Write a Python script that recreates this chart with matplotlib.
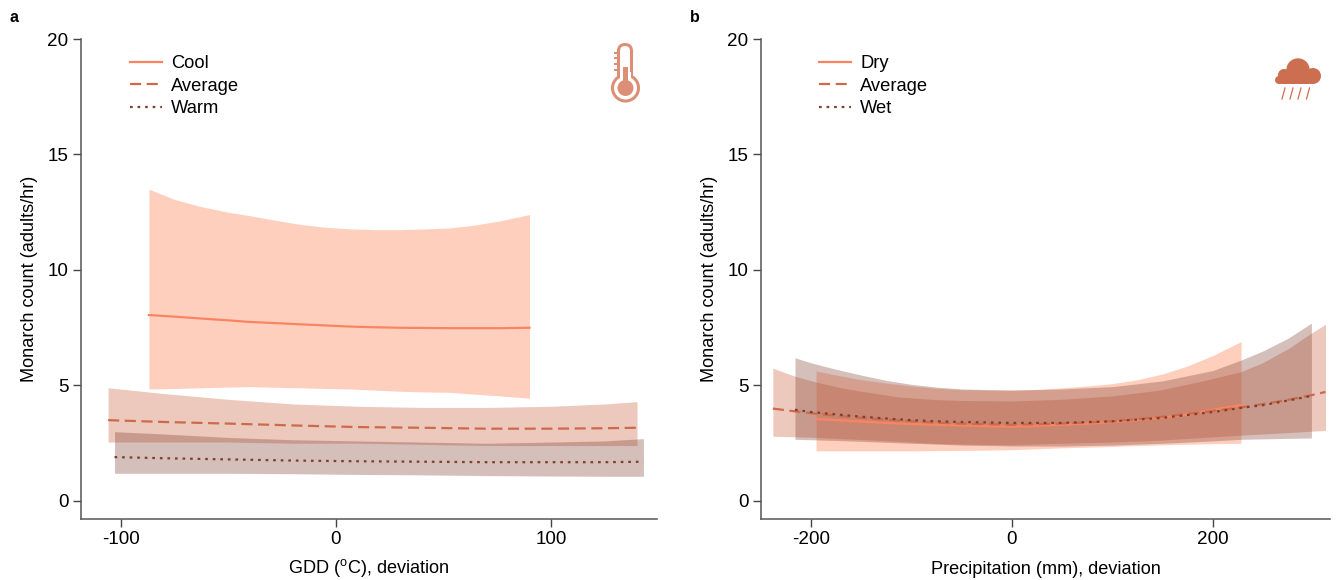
import numpy as np
import matplotlib
matplotlib.use("Agg")
import matplotlib.pyplot as plt
from matplotlib.patches import Circle, FancyBboxPatch, Rectangle
from matplotlib.transforms import Affine2D

plt.rcParams['font.family'] = ['Liberation Sans', 'DejaVu Sans']
plt.rcParams['axes.unicode_minus'] = False

W, H = 1342, 580

# Panel a
a_cool_x = [-87, -75, -63, -50, -40, -28, -17, -5, 6.5, 18, 30, 42, 53, 65, 76, 90]
a_cool_up = [13.5, 13.05, 12.75, 12.5, 12.35, 12.15, 11.98, 11.85, 11.78, 11.75, 11.75, 11.78, 11.82, 11.95, 12.12, 12.4]
a_cool_lo = [4.85, 4.87, 4.9, 4.93, 4.95, 4.92, 4.9, 4.87, 4.85, 4.8, 4.75, 4.72, 4.7, 4.62, 4.55, 4.45]
a_cool_m = [8.05, 7.98, 7.9, 7.82, 7.75, 7.7, 7.65, 7.6, 7.55, 7.52, 7.5, 7.49, 7.48, 7.48, 7.48, 7.5]
a_avg_x = [-106, -80, -50, -20, 10, 40, 70, 100, 125, 140]
a_avg_up = [4.9, 4.65, 4.4, 4.2, 4.1, 4.05, 4.05, 4.1, 4.2, 4.3]
a_avg_lo = [2.55, 2.55, 2.55, 2.5, 2.5, 2.45, 2.4, 2.4, 2.4, 2.4]
a_avg_m = [3.5, 3.42, 3.35, 3.27, 3.2, 3.17, 3.13, 3.13, 3.15, 3.17]
a_warm_x = [-103, -80, -50, -20, 10, 40, 70, 100, 125, 143]
a_warm_up = [3.0, 2.9, 2.75, 2.65, 2.6, 2.55, 2.5, 2.55, 2.6, 2.7]
a_warm_lo = [1.2, 1.2, 1.2, 1.18, 1.15, 1.13, 1.1, 1.08, 1.07, 1.07]
a_warm_m = [1.9, 1.85, 1.8, 1.75, 1.72, 1.7, 1.68, 1.68, 1.68, 1.7]

# Panel b
b_dry_x = [-195, -175, -150, -125, -100, -75, -50, -25, 0, 25, 50, 75, 100, 125, 150, 175, 200, 228]
b_dry_up = [5.63, 5.45, 5.25, 5.1, 4.98, 4.88, 4.82, 4.8, 4.8, 4.83, 4.9, 4.98, 5.08, 5.25, 5.5, 5.85, 6.3, 6.9]
b_dry_lo = [2.17, 2.17, 2.17, 2.17, 2.17, 2.18, 2.19, 2.2, 2.22, 2.26, 2.3, 2.33, 2.36, 2.4, 2.43, 2.46, 2.48, 2.5]
b_dry_m = [3.55, 3.5, 3.44, 3.38, 3.33, 3.3, 3.27, 3.24, 3.22, 3.25, 3.3, 3.35, 3.42, 3.5, 3.6, 3.75, 3.95, 4.15]
b_avg_x = [-238, -216, -195, -170, -150, -112, -80, -50, 0, 48, 100, 147, 190, 228, 250, 275, 298, 312]
b_avg_up = [5.75, 5.4, 5.15, 4.9, 4.75, 4.5, 4.4, 4.35, 4.33, 4.4, 4.55, 4.8, 5.2, 5.6, 6.0, 6.6, 7.27, 7.65]
b_avg_lo = [2.8, 2.78, 2.75, 2.7, 2.66, 2.58, 2.5, 2.46, 2.43, 2.5, 2.55, 2.63, 2.75, 2.85, 2.9, 2.96, 3.02, 3.05]
b_avg_m = [4.0, 3.88, 3.78, 3.67, 3.6, 3.48, 3.4, 3.35, 3.3, 3.35, 3.45, 3.63, 3.85, 4.05, 4.2, 4.38, 4.58, 4.72]
b_wet_x = [-216, -200, -175, -150, -125, -100, -75, -50, 0, 50, 100, 150, 200, 228, 250, 275, 298]
b_wet_up = [6.2, 5.98, 5.7, 5.45, 5.22, 5.05, 4.93, 4.85, 4.8, 4.85, 4.95, 5.2, 5.65, 6.1, 6.5, 7.05, 7.7]
b_wet_lo = [2.67, 2.65, 2.62, 2.58, 2.54, 2.5, 2.46, 2.42, 2.38, 2.38, 2.42, 2.5, 2.6, 2.67, 2.69, 2.71, 2.73]
b_wet_m = [3.95, 3.85, 3.75, 3.65, 3.57, 3.5, 3.45, 3.42, 3.38, 3.38, 3.45, 3.6, 3.85, 4.03, 4.15, 4.35, 4.55]

C1, C2, C3 = '#FF7F50', '#CD6A4E', '#7F3F2E'
LINE1 = '#F98560'
LS = ['-', (0, (5, 2.5)), (0, (1.2, 2.2))]

fig = plt.figure(figsize=(W / 100, H / 100), dpi=100)


def make_axes(l, r, t=39, b=519):
    return fig.add_axes([l / W, 1 - b / H, (r - l) / W, (b - t) / H])


def style(ax, xlim, xticks, xlabel, xpad):
    ax.set_xlim(*xlim)
    ax.set_ylim(-0.78, 20)
    ax.set_xticks(xticks)
    ax.set_yticks([0, 5, 10, 15, 20])
    ax.set_xlabel(xlabel, fontsize=13.1, labelpad=xpad)
    ax.set_ylabel('Monarch count (adults/hr)', fontsize=13.1, labelpad=6.5)
    ax.tick_params(labelsize=13.6, length=6, width=1, color='#444444', pad=3)
    for s in ('top', 'right'):
        ax.spines[s].set_visible(False)
    for s in ('left', 'bottom'):
        ax.spines[s].set_color('#555555')
        ax.spines[s].set_linewidth(1.1)


def series(ax, x, lo, up, m, c, lc, ls, label, alpha=0.37):
    ax.fill_between(x, lo, up, color=c, alpha=alpha, lw=0, zorder=1)
    ax.plot(x, m, color=lc, ls=ls, lw=1.6, label=label, zorder=5)


axa = make_axes(81, 657)
series(axa, a_cool_x, a_cool_lo, a_cool_up, a_cool_m, C1, LINE1, LS[0], 'Cool')
series(axa, a_avg_x, a_avg_lo, a_avg_up, a_avg_m, C2, C2, LS[1], 'Average')
series(axa, a_warm_x, a_warm_lo, a_warm_up, a_warm_m, C3, C3, LS[2], 'Warm', alpha=0.33)
style(axa, (-118.6, 149.3), [-100, 0, 100], 'GDD ($\\mathregular{^{o}}$C), deviation', 6)

axb = make_axes(761, 1330)
series(axb, b_dry_x, b_dry_lo, b_dry_up, b_dry_m, C1, LINE1, LS[0], 'Dry')
series(axb, b_avg_x, b_avg_lo, b_avg_up, b_avg_m, C2, C2, LS[1], 'Average')
series(axb, b_wet_x, b_wet_lo, b_wet_up, b_wet_m, C3, C3, LS[2], 'Wet', alpha=0.33)
style(axb, (-249.8, 316.5), [-200, 0, 200], 'Precipitation (mm), deviation', 9)

for ax, x0 in ((axa, 0.085), (axb, 0.102)):
    ax.legend(loc='upper left', bbox_to_anchor=(x0, 0.966), frameon=False,
              fontsize=13.2, handlelength=1.75, handletextpad=0.5,
              labelspacing=0.3, borderaxespad=0, borderpad=0)

fig.text(10 / W, 1 - 18 / H, 'a', fontsize=11.5, fontweight='bold', va='center')
fig.text(690 / W, 1 - 18 / H, 'b', fontsize=11.5, fontweight='bold', va='center')

# Icons, in figure pixels with y pointing down
px = Affine2D().scale(1, -1).translate(0, H)
TH = '#DD8E76'
CL = '#CC6E50'


def add(p):
    p.set_transform(px)
    fig.add_artist(p)


add(FancyBboxPatch((618.5, 44.5), 13, 40, boxstyle='round,pad=0,rounding_size=6.5',
                   fc='white', ec=TH, lw=2.2))
add(Circle((625.5, 88), 13, fc='white', ec=TH, lw=2.2))
add(Rectangle((620.2, 72), 10.6, 10, fc='white', ec='none'))
add(Rectangle((623, 67), 4.6, 18, fc=TH, ec='none'))
add(Circle((625.5, 88), 8, fc=TH, ec='none'))
for yy in (53, 58, 64, 70):
    add(Rectangle((613.5, yy - 1), 4, 2, fc=TH, ec='none'))

for cx, cy, r in ((1298, 70, 11.7), (1313, 76, 8), (1284, 75, 6), (1279, 80, 4)):
    add(Circle((cx, cy), r, fc=CL, ec='none'))
add(Rectangle((1279, 72), 34, 12, fc=CL, ec='none'))
for xx in (1285, 1293, 1301, 1309.5):
    fig.add_artist(plt.Line2D([xx, xx - 3], [88, 99], color=CL, lw=0.9, transform=px))

fig.savefig('out.png', dpi=100)
